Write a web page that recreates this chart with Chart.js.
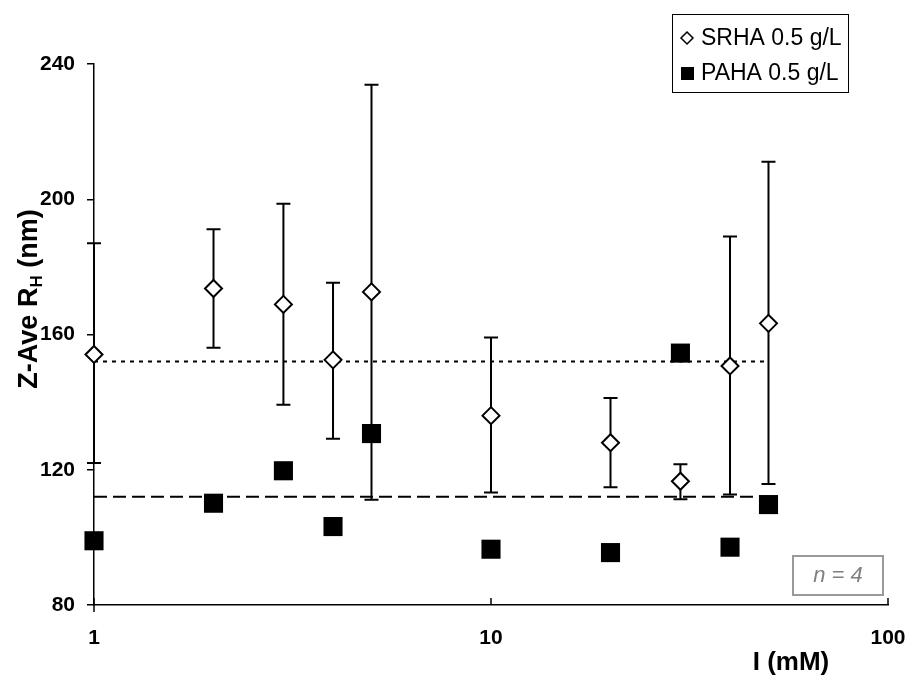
<!DOCTYPE html>
<html>
<head>
<meta charset="utf-8">
<script src="https://cdn.jsdelivr.net/npm/chart.js@4/dist/chart.umd.min.js"></script>
<style>
  html, body { margin: 0; padding: 0; background: #fff; }
  #wrap { width: 912px; height: 680px; position: relative; }
</style>
</head>
<body>
<div id="wrap"><canvas id="chart"></canvas></div>
<script>
// Ionic strength (mM)
const xValues = [1, 2, 3, 4, 5, 10, 20, 30, 40, 50];
// SRHA 0.5 g/L: mean and error bar limits
const srhaMean  = [154.1, 173.6, 168.9, 152.5, 172.6, 136.0, 128.0, 116.6, 150.7, 163.3];
const srhaUpper = [187.0, 191.1, 198.7, 175.3, 233.9, 159.1, 141.2, 121.6, 189.0, 211.1];
const srhaLower = [122.0, 156.1, 139.2, 129.2, 111.1, 113.3, 114.8, 111.3, 112.7, 115.8];
// PAHA 0.5 g/L
const pahaMean  = [99.0, 110.1, 119.7, 103.2, 130.7, 96.5, 95.5, 154.5, 97.1, 109.7];
// average lines
const avgLineX = [1, 50];
const srhaAvg = 152;
const pahaAvg = 112;

const seriesNames = ['SRHA 0.5 g/L', 'PAHA 0.5 g/L'];
const xTickValues = [1, 10, 100];
const yTickValues = [80, 120, 160, 200, 240];
const xTitle = 'I (mM)';
const nLabel = 'n = 4';

const FONT = "'Liberation Sans', Arial, sans-serif";

// ================================
// Error bars (drawn under the markers)
// ================================
const errorBars = {
    id: 'errorBars',
    beforeDatasetsDraw(chart) {
        const { ctx, scales: { x, y } } = chart;
        ctx.save();
        ctx.strokeStyle = '#000';
        ctx.lineWidth = 2;
        xValues.forEach((v, i) => {
            const px = x.getPixelForValue(v);
            const top = y.getPixelForValue(srhaUpper[i]);
            const bot = y.getPixelForValue(srhaLower[i]);
            ctx.beginPath();
            ctx.moveTo(px, top); ctx.lineTo(px, bot);
            ctx.moveTo(px - 7, top); ctx.lineTo(px + 7, top);
            ctx.moveTo(px - 7, bot); ctx.lineTo(px + 7, bot);
            ctx.stroke();
        });
        ctx.restore();
    }
};

// ================================
// Titles, x tick marks, legend, n = 4 box
// ================================
const decorations = {
    id: 'decorations',
    afterDraw(chart) {
        const { ctx, chartArea, scales: { x } } = chart;
        ctx.save();

        // inside tick marks on the x axis
        ctx.strokeStyle = '#000';
        ctx.lineWidth = 1.5;
        xTickValues.forEach(v => {
            const px = x.getPixelForValue(v);
            ctx.beginPath();
            ctx.moveTo(px, chartArea.bottom);
            ctx.lineTo(px, chartArea.bottom - 7);
            ctx.stroke();
        });
        // y axis sticks out a bit below
        ctx.beginPath();
        ctx.moveTo(chartArea.left, chartArea.bottom);
        ctx.lineTo(chartArea.left, chartArea.bottom + 7);
        ctx.stroke();

        // x title
        ctx.fillStyle = '#000';
        ctx.font = 'bold 26px ' + FONT;
        ctx.textAlign = 'center';
        ctx.textBaseline = 'middle';
        ctx.fillText(xTitle, 791, 663);

        // y title with subscript
        ctx.save();
        ctx.translate(27, 299);
        ctx.rotate(-Math.PI / 2);
        const mainFont = 'bold 27px ' + FONT;
        const subFont = 'bold 17px ' + FONT;
        ctx.font = mainFont;
        const w1 = ctx.measureText('Z-Ave R').width;
        const w3 = ctx.measureText(' (nm)').width;
        ctx.font = subFont;
        const w2 = ctx.measureText('H').width;
        let sx = -(w1 + w2 + w3) / 2;
        ctx.textAlign = 'left';
        ctx.textBaseline = 'alphabetic';
        ctx.font = mainFont;
        ctx.fillText('Z-Ave R', sx, 10);
        sx += w1;
        ctx.font = subFont;
        ctx.fillText('H', sx, 15);
        sx += w2;
        ctx.font = mainFont;
        ctx.fillText(' (nm)', sx, 10);
        ctx.restore();

        // legend
        ctx.fillStyle = '#fff';
        ctx.fillRect(672, 14, 176, 78);
        ctx.strokeStyle = '#000';
        ctx.lineWidth = 1;
        ctx.strokeRect(672.5, 14.5, 176, 78);
        ctx.font = '23px ' + FONT;
        ctx.fillStyle = '#000';
        ctx.textAlign = 'left';
        ctx.textBaseline = 'middle';
        // diamond
        ctx.beginPath();
        ctx.moveTo(687, 32); ctx.lineTo(693, 38); ctx.lineTo(687, 44); ctx.lineTo(681, 38);
        ctx.closePath();
        ctx.fillStyle = '#fff';
        ctx.fill();
        ctx.lineWidth = 1.5;
        ctx.stroke();
        ctx.fillStyle = '#000';
        ctx.fillText(seriesNames[0], 701, 39);
        // square
        ctx.fillRect(681, 67, 13, 13);
        ctx.fillText(seriesNames[1], 701, 74);

        // n = 4 box
        ctx.strokeStyle = '#999';
        ctx.lineWidth = 2;
        ctx.strokeRect(793, 556, 90, 39);
        ctx.fillStyle = '#808080';
        ctx.font = 'italic 22px ' + FONT;
        ctx.textAlign = 'center';
        ctx.fillText(nLabel, 838, 576);

        ctx.restore();
    }
};

const ctx = document.getElementById('chart');
new Chart(ctx, {
    type: 'scatter',
    data: {
        datasets: [
            {
                label: seriesNames[0],
                data: xValues.map((v, i) => ({ x: v, y: srhaMean[i] })),
                pointStyle: 'rectRot',
                pointRadius: 8.5,
                pointHoverRadius: 8.5,
                backgroundColor: '#fff',
                borderColor: '#000',
                borderWidth: 2,
                clip: false,
                order: 0
            },
            {
                label: seriesNames[1],
                data: xValues.map((v, i) => ({ x: v, y: pahaMean[i] })),
                pointStyle: 'rect',
                pointRadius: 13.5,
                pointHoverRadius: 13.5,
                backgroundColor: '#000',
                borderColor: '#000',
                borderWidth: 0,
                clip: false,
                order: 1
            },
            {
                label: 'SRHA avg',
                data: avgLineX.map(v => ({ x: v, y: srhaAvg })),
                showLine: true,
                borderColor: '#000',
                borderWidth: 2,
                borderDash: [4, 5],
                pointRadius: 0,
                order: 2
            },
            {
                label: 'PAHA avg',
                data: avgLineX.map(v => ({ x: v, y: pahaAvg })),
                showLine: true,
                borderColor: '#000',
                borderWidth: 2,
                borderDash: [13, 6],
                pointRadius: 0,
                order: 3
            }
        ]
    },
    options: {
        responsive: true,
        maintainAspectRatio: false,
        animation: false,
        layout: { padding: { left: 0, right: 24, top: 64, bottom: 0 } },
        plugins: {
            legend: { display: false },
            tooltip: { enabled: false }
        },
        scales: {
            x: {
                type: 'logarithmic',
                min: 1,
                max: 100,
                afterBuildTicks(scale) {
                    scale.ticks = xTickValues.map(v => ({ value: v }));
                },
                afterFit(scale) {
                    scale.height = 75;
                    scale.paddingLeft = 0;
                    scale.paddingRight = 0;
                },
                border: { display: true, color: '#000', width: 1.5 },
                grid: { drawOnChartArea: false, drawTicks: false },
                ticks: {
                    color: '#000',
                    padding: 21,
                    autoSkip: false,
                    maxRotation: 0,
                    font: { family: FONT, size: 21, weight: 'bold' },
                    callback: v => String(v)
                }
            },
            y: {
                min: 80,
                max: 240,
                afterBuildTicks(scale) {
                    scale.ticks = yTickValues.map(v => ({ value: v }));
                },
                afterFit(scale) { scale.width = 94; },
                border: { display: true, color: '#000', width: 1.5 },
                grid: { drawOnChartArea: false, drawTicks: true, tickLength: 7, color: '#000', lineWidth: 1.5 },
                ticks: {
                    color: '#000',
                    padding: 12,
                    font: { family: FONT, size: 21, weight: 'bold' }
                }
            }
        }
    },
    plugins: [errorBars, decorations]
});
</script>
</body>
</html>
